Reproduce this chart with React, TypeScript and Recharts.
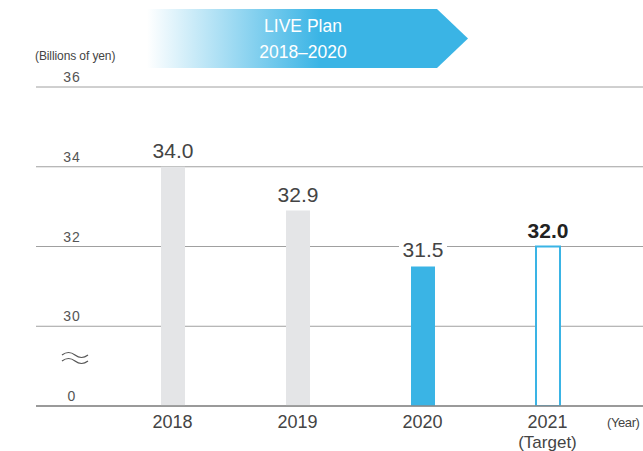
import { BarChart, Bar, XAxis, YAxis, CartesianGrid, Cell, LabelList, Customized } from "recharts";

const years = ["2018", "2019", "2020", "2021"];
const subLabels = ["", "", "", "(Target)"];
const values = [34.0, 32.9, 31.5, 32.0];
const yTicks = [28, 30, 32, 34, 36];
const yTickLabels = ["0", "30", "32", "34", "36"];

const GRAY = "#e4e5e7";
const BLUE = "#3ab4e5";
const FONT = "'Liberation Sans', Arial, sans-serif";

const data = years.map((year, i) => ({ year, sub: subLabels[i], value: values[i] }));

function YTick(props: any) {
  const { y, payload } = props;
  const i = yTicks.indexOf(payload.value);
  return (
    <text x={72} y={y - 5} textAnchor="middle" fontSize={14} letterSpacing={1} fill="#555" fontFamily={FONT}>
      {yTickLabels[i]}
    </text>
  );
}

function XTick(props: any) {
  const { x, payload, index } = props;
  return (
    <g>
      <text x={x} y={428} textAnchor="middle" fontSize={18} fill="#444" fontFamily={FONT}>
        {payload.value}
      </text>
      {subLabels[index] && (
        <text x={x} y={448} textAnchor="middle" fontSize={17} fill="#444" fontFamily={FONT}>
          {subLabels[index]}
        </text>
      )}
    </g>
  );
}

function ValueLabel(props: any) {
  const { x, y, width, value, index } = props;
  const cx = x + width / 2;
  const target = index === 3;
  return (
    <g>
      {index === 2 && <rect x={cx - 24} y={y - 26} width={48} height={22} fill="#fff" />}
      <text
        x={cx}
        y={y - 9}
        textAnchor="middle"
        fontSize={21}
        fontWeight={target ? "bold" : "normal"}
        fill={target ? "#222" : "#444"}
        fontFamily={FONT}
      >
        {Number(value).toFixed(1)}
      </text>
    </g>
  );
}

function Extras() {
  return (
    <g fontFamily={FONT}>
      <defs>
        <linearGradient id="bannerGrad" gradientUnits="userSpaceOnUse" x1={147} y1={0} x2={320} y2={0}>
          <stop offset="0" stopColor="#ffffff" />
          <stop offset="1" stopColor={BLUE} />
        </linearGradient>
      </defs>
      <polygon points="147,9 437,9 468,38.5 437,68 147,68" fill="url(#bannerGrad)" />
      <text x={303} y={32} textAnchor="middle" fontSize={17.5} fill="#fff">LIVE Plan</text>
      <text x={303} y={58} textAnchor="middle" fontSize={17.5} fill="#fff">2018–2020</text>
      <text x={35} y={60} fontSize={12} fill="#444" letterSpacing={-0.1}>(Billions of yen)</text>
      <path d="M62,355 q6.5,-5 13,0 t13,0 M62,361 q6.5,-5 13,0 t13,0" fill="none" stroke="#555" strokeWidth={1.2} />
      <text x={607} y={427} fontSize={13} fill="#444" letterSpacing={-0.4}>(Year)</text>
    </g>
  );
}

export default function App() {
  return (
    <div style={{ position: "absolute", left: 0, top: 0, width: 643, height: 451, background: "#fff" }}>
      <BarChart width={643} height={451} data={data} margin={{ top: 87, right: 0, left: 0, bottom: 0 }}>
        <CartesianGrid vertical={false} stroke="#a0a0a0" />
        <XAxis
          dataKey="year"
          height={45}
          padding={{ left: 74, right: 33 }}
          tickLine={false}
          axisLine={{ stroke: "#888", strokeWidth: 1.5 }}
          tick={<XTick />}
          interval={0}
        />
        <YAxis
          width={36}
          domain={[28, 36]}
          ticks={yTicks}
          axisLine={false}
          tickLine={false}
          tick={<YTick />}
          allowDataOverflow
        />
        <Bar dataKey="value" barSize={24} isAnimationActive={false}>
          {data.map((_, i) => (
            <Cell
              key={i}
              fill={i === 3 ? "#fff" : i === 2 ? BLUE : GRAY}
              stroke={i === 3 ? BLUE : "none"}
              strokeWidth={i === 3 ? 2 : 0}
            />
          ))}
          <LabelList dataKey="value" content={<ValueLabel />} />
        </Bar>
        <Customized component={<Extras />} />
      </BarChart>
    </div>
  );
}
